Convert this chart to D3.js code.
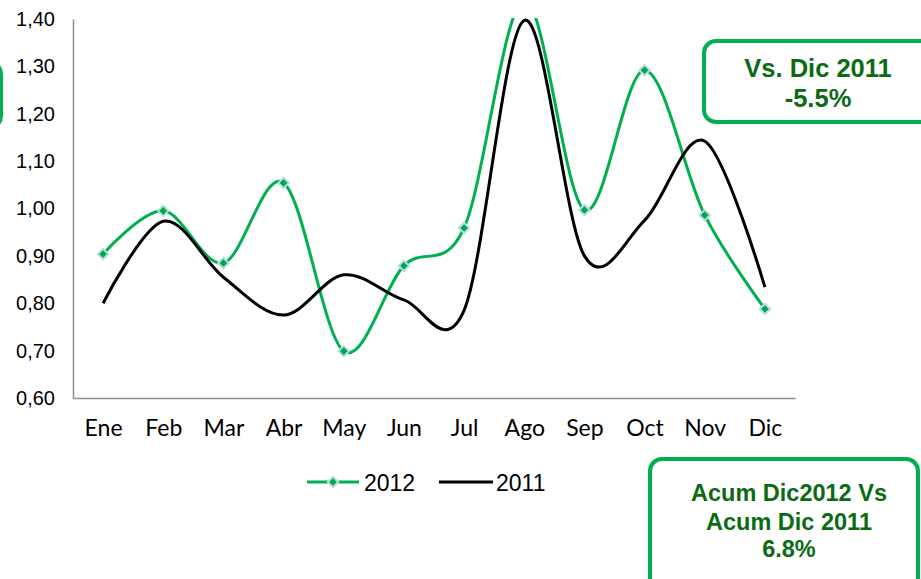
<!DOCTYPE html>
<html>
<head>
<meta charset="utf-8">
<script src="https://cdn.jsdelivr.net/npm/d3@7"></script>
<style>
  body { margin: 0; background: #fff; }
  svg { display: block; }
</style>
</head>
<body>
<div id="wrapper"></div>
<script>
const months = ["Ene", "Feb", "Mar", "Abr", "May", "Jun", "Jul", "Ago", "Sep", "Oct", "Nov", "Dic"]
const values2012 = [0.904, 0.995, 0.885, 1.054, 0.699, 0.879, 0.959, 1.44, 0.997, 1.292, 0.986, 0.788]
const values2011 = [0.800, 0.973, 0.855, 0.775, 0.860, 0.807, 0.785, 1.397, 0.900, 0.975, 1.142, 0.834]
const yTicks = [0.6, 0.7, 0.8, 0.9, 1.0, 1.1, 1.2, 1.3, 1.4]
const boxVs = ["Vs. Dic 2011", "-5.5%"]
const boxAcum = ["Acum Dic2012 Vs", "Acum Dic 2011", "6.8%"]

const green = "#00b050"
const darkGreen = "#0b6b12"
const sans = "'Liberation Sans', Arial, sans-serif"

// dimensions
const dimensions = {
  width: 921,
  height: 579,
  margins: { top: 19, right: 126, bottom: 181, left: 73 }
}
dimensions.boundedWidth = dimensions.width - dimensions.margins.left - dimensions.margins.right
dimensions.boundedHeight = dimensions.height - dimensions.margins.top - dimensions.margins.bottom

const wrapper = d3.select("#wrapper")
  .append("svg")
    .attr("width", dimensions.width)
    .attr("height", dimensions.height)

const bounds = wrapper.append("g")
  .attr("transform", `translate(${dimensions.margins.left},${dimensions.margins.top})`)

// scales
const xScale = d3.scalePoint()
  .domain(months)
  .range([0, dimensions.boundedWidth])
  .padding(0.5)

const yScale = d3.scaleLinear()
  .domain([0.6, 1.4])
  .range([dimensions.boundedHeight, 0])

// clip to plot area
bounds.append("clipPath")
    .attr("id", "plot-clip")
  .append("rect")
    .attr("x", 0)
    .attr("y", -1)
    .attr("width", dimensions.boundedWidth)
    .attr("height", dimensions.boundedHeight + 1)

// axes
const yAxis = bounds.append("g")
  .call(d3.axisLeft(yScale).tickValues(yTicks).tickSize(0).tickPadding(18)
    .tickFormat(d => d3.format(".2f")(d).replace(".", ",")))
yAxis.select(".domain").attr("stroke", "#8c8c8c").attr("stroke-width", 1.5)
yAxis.selectAll("text")
  .attr("fill", "#000")
  .style("font-family", sans)
  .style("font-size", "20px")

const xAxis = bounds.append("g")
  .attr("transform", `translate(0,${dimensions.boundedHeight})`)
  .call(d3.axisBottom(xScale).tickSize(0).tickPadding(22))
xAxis.select(".domain").attr("stroke", "#8c8c8c").attr("stroke-width", 1.5)
xAxis.selectAll("text")
  .attr("fill", "#000")
  .style("font-family", "Lato, 'Open Sans', sans-serif")
  .style("font-size", "23px")

// lines
const lineGenerator = d3.line()
  .x((d, i) => xScale(months[i]))
  .y(d => yScale(d))
  .curve(d3.curveCardinal.tension(0))

const plot = bounds.append("g").attr("clip-path", "url(#plot-clip)")

plot.append("path")
  .datum(values2012)
  .attr("d", lineGenerator)
  .attr("fill", "none")
  .attr("stroke", green)
  .attr("stroke-width", 3)

plot.append("path")
  .datum(values2011)
  .attr("d", lineGenerator)
  .attr("fill", "none")
  .attr("stroke", "#000")
  .attr("stroke-width", 3)

const diamond = d3.symbol().type(d3.symbolDiamond2).size(70)

plot.selectAll(".marker")
  .data(values2012)
  .enter().append("path")
    .attr("class", "marker")
    .attr("d", diamond)
    .attr("transform", (d, i) => `translate(${xScale(months[i])},${yScale(d)})`)
    .attr("fill", "#00a651")
    .attr("stroke", "#b5e0dc")
    .attr("stroke-width", 2)

// legend
const legend = wrapper.append("g")
  .attr("transform", "translate(307,482)")
  .style("font-family", sans)
  .style("font-size", "23px")

legend.append("line")
  .attr("x1", 0).attr("x2", 52).attr("y1", 0).attr("y2", 0)
  .attr("stroke", green).attr("stroke-width", 3)
legend.append("path")
  .attr("d", diamond)
  .attr("transform", "translate(26,0)")
  .attr("fill", "#00a651")
  .attr("stroke", "#b5e0dc")
  .attr("stroke-width", 2)
legend.append("text")
  .attr("x", 57).attr("y", 8.5)
  .text("2012")

legend.append("line")
  .attr("x1", 132).attr("x2", 186).attr("y1", 0).attr("y2", 0)
  .attr("stroke", "#000").attr("stroke-width", 3)
legend.append("text")
  .attr("x", 189).attr("y", 8.5)
  .text("2011")

// callout boxes
const drawBox = (x, y, w, h, lines, cx, baselines, size) => {
  const g = wrapper.append("g")
  g.append("rect")
    .attr("x", x).attr("y", y)
    .attr("width", w).attr("height", h)
    .attr("rx", 12).attr("ry", 12)
    .attr("fill", "#fff")
    .attr("stroke", green)
    .attr("stroke-width", 4)
  g.selectAll("text")
    .data(lines)
    .enter().append("text")
      .attr("x", cx)
      .attr("y", (d, i) => baselines[i])
      .attr("text-anchor", "middle")
      .attr("fill", darkGreen)
      .style("font-family", sans)
      .style("font-weight", "bold")
      .style("font-size", size)
      .text(d => d)
}

drawBox(-200, 62, 201, 66, [], 0, [], "20px")
drawBox(704, 41, 240, 81, boxVs, 818, [77, 107], "25.5px")
drawBox(650, 459, 268, 140, boxAcum, 789, [501, 530, 557], "23.5px")
</script>
</body>
</html>
